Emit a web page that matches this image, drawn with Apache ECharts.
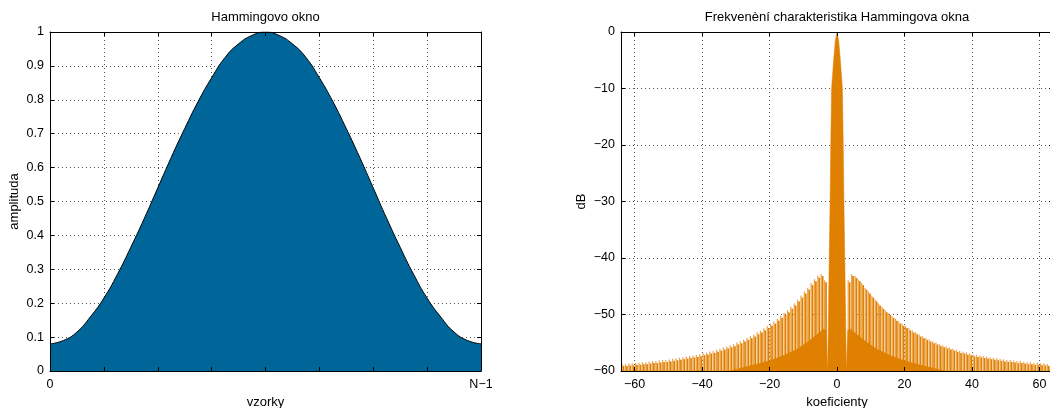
<!DOCTYPE html>
<html>
<head>
<meta charset="utf-8">
<script src="https://cdn.jsdelivr.net/npm/echarts@6/dist/echarts.min.js"></script>
<style>
html, body { margin: 0; padding: 0; background: #fff; }
#main { width: 1050px; height: 408px; }
</style>
</head>
<body>
<div id="main"></div>
<script>
// levy graf: Hammingovo okno, x v osminach (N-1)
var winX = [0, 0.25, 0.5, 0.75, 1, 1.25, 1.5, 1.75, 2, 2.25, 2.5, 2.75, 3, 3.25, 3.5, 3.75, 4,
    4.25, 4.5, 4.75, 5, 5.25, 5.5, 5.75, 6, 6.25, 6.5, 6.75, 7, 7.25, 7.5, 7.75, 8];
var winAmp = [0.08, 0.09, 0.115, 0.16, 0.215, 0.285, 0.365, 0.45, 0.54, 0.63, 0.715, 0.795, 0.865, 0.925, 0.965, 0.99, 1.0,
    0.99, 0.965, 0.925, 0.865, 0.795, 0.715, 0.63, 0.54, 0.45, 0.365, 0.285, 0.215, 0.16, 0.115, 0.09, 0.08];
var winXLabels = { 0: '0', 8: 'N\u22121' };

// pravy graf: hlavni lalok + spodni obalka
var lobeX = [-64, -32, -25, -20, -16, -12, -9, -6, -4, -3.2, -2.75, -2.55, -2.3, -2.05, -1.85, -1.6, -1.0, -0.5, 0,
    0.5, 1.0, 1.6, 1.85, 2.05, 2.3, 2.55, 2.75, 3.2, 4, 6, 9, 12, 16, 20, 25, 32, 64];
var lobeDb = [-60, -60, -59, -58.2, -57.3, -56.2, -55, -53.6, -52.6, -52.8, -60, -50, -40, -30, -20, -10, -5, -1.5, 0,
    -1.5, -5, -10, -20, -30, -40, -50, -60, -52.8, -52.6, -53.6, -55, -56.2, -57.3, -58.2, -59, -60, -60];

// spicky postrannich laloku, x = 3.5 .. 63.5
var rightSpikeDb = [-44.3, -43.2, -43.5, -44.1, -44.8, -45.6, -46.3, -47.0, -47.7, -48.4,
    -49.0, -49.6, -50.1, -50.6, -51.1, -51.6, -52.0, -52.4, -52.8, -53.2,
    -53.5, -53.9, -54.2, -54.5, -54.8, -55.1, -55.3, -55.6, -55.8, -56.0,
    -56.2, -56.4, -56.6, -56.8, -56.9, -57.1, -57.2, -57.4, -57.5, -57.6,
    -57.7, -57.8, -57.9, -58.0, -58.1, -58.2, -58.3, -58.4, -58.4, -58.5,
    -58.6, -58.6, -58.7, -58.8, -58.8, -58.9, -58.9, -59.0, -59.0, -59.1, -59.1];
// x = -63.5 .. -3.5
var leftSpikeDb = [-59.1, -59.1, -59.0, -59.0, -58.9, -58.9, -58.8, -58.8, -58.7, -58.6,
    -58.6, -58.5, -58.4, -58.4, -58.3, -58.2, -58.1, -58.0, -57.9, -57.8,
    -57.7, -57.6, -57.5, -57.4, -57.2, -57.1, -56.9, -56.8, -56.6, -56.4,
    -56.2, -56.0, -55.8, -55.6, -55.3, -55.1, -54.8, -54.5, -54.2, -53.9,
    -53.5, -53.2, -52.8, -52.4, -52.0, -51.6, -51.1, -50.6, -50.1, -49.6,
    -49.0, -48.4, -47.7, -47.0, -46.3, -45.6, -44.8, -44.1, -43.5, -43.2, -44.3];
var freqTicks = [-60, -40, -20, 0, 20, 40, 60];

var FONT = 'Liberation Sans, Arial, Helvetica, sans-serif';
var chart = echarts.init(document.getElementById('main'));

var winData = [];
for (var i = 0; i < winX.length; i++) winData.push([winX[i], winAmp[i]]);
var lobeData = [];
for (var i = 0; i < lobeX.length; i++) lobeData.push([lobeX[i], lobeDb[i]]);
var spikeData = [];
for (var i = 0; i < leftSpikeDb.length; i++) spikeData.push([-63.5 + i, leftSpikeDb[i]]);
for (var i = 0; i < rightSpikeDb.length; i++) spikeData.push([3.5 + i, rightSpikeDb[i]]);

function minus(v) { return String(v).replace('-', '\u2212'); }

var dotted = { show: true, lineStyle: { color: '#555', width: 1, type: [1, 3] } };
var lbl = { color: '#000', fontFamily: FONT, fontSize: 12.5 };
var nm = { color: '#000', fontFamily: FONT, fontSize: 13 };
var boxLine = { show: true, onZero: false, lineStyle: { color: '#000', width: 1 } };

function boxX(grid, pos, min, max, interval, ticks) {
    var ax = {
        type: 'value', gridIndex: grid, position: pos, min: min, max: max, z: 10,
        axisLine: boxLine,
        axisTick: { show: true, inside: true, length: 4, lineStyle: { color: '#000' } },
        axisLabel: { show: false }, splitLine: { show: false }
    };
    if (interval) ax.interval = interval;
    if (ticks) ax.axisTick.customValues = ticks;
    return ax;
}
function boxY(grid, pos, min, max, interval) {
    return {
        type: 'value', gridIndex: grid, position: pos, min: min, max: max, interval: interval, z: 10,
        axisLine: boxLine,
        axisTick: { show: true, inside: true, length: 4, lineStyle: { color: '#000' } },
        axisLabel: { show: false }, splitLine: { show: false }
    };
}

function drawSpike(params, api) {
    var tip = api.coord([api.value(0), api.value(1)]);
    var foot = api.coord([api.value(0), -60]);
    return {
        type: 'group',
        children: [
            { type: 'rect', shape: { x: tip[0] - 1.2, y: tip[1] - 2, width: 1.2, height: foot[1] - tip[1] + 2 },
              style: { fill: '#eda24a' } },
            { type: 'rect', shape: { x: tip[0], y: tip[1], width: 1.7, height: foot[1] - tip[1] },
              style: { fill: '#e08000' } }
        ]
    };
}

var option = {
    animation: false,
    backgroundColor: '#fff',
    grid: [
        { left: 50, top: 32, width: 431, height: 339, outerBoundsMode: 'none' },
        { left: 621, top: 32, width: 432, height: 339, outerBoundsMode: 'none' }
    ],
    xAxis: [
        {
            type: 'value', gridIndex: 0, position: 'bottom', min: 0, max: 8, interval: 1,
            axisLine: { show: false }, axisTick: { show: false },
            axisLabel: Object.assign({ margin: 7, formatter: function (v) { return winXLabels[v] || ''; } }, lbl),
            splitLine: dotted,
            name: 'vzorky', nameLocation: 'middle', nameGap: 22, nameTextStyle: nm
        },
        boxX(0, 'bottom', 0, 8, 1),
        Object.assign(boxX(0, 'top', 0, 8, 1), {
            name: 'Hammingovo okno', nameLocation: 'middle', nameGap: 8, nameTextStyle: nm
        }),
        {
            type: 'value', gridIndex: 1, position: 'bottom', min: -64, max: 64,
            axisLine: { show: false },
            axisTick: { show: false, customValues: freqTicks },
            axisLabel: Object.assign({ margin: 7, customValues: freqTicks, formatter: minus }, lbl),
            splitLine: dotted,
            name: 'koeficienty', nameLocation: 'middle', nameGap: 22, nameTextStyle: nm
        },
        boxX(1, 'bottom', -64, 64, null, freqTicks),
        Object.assign(boxX(1, 'top', -64, 64, null, freqTicks), {
            name: 'Frekven\u00e8n\u00ed charakteristika Hammingova okna', nameLocation: 'middle', nameGap: 8, nameTextStyle: nm
        })
    ],
    yAxis: [
        {
            type: 'value', gridIndex: 0, position: 'left', min: 0, max: 1, interval: 0.1,
            axisLine: { show: false }, axisTick: { show: false },
            axisLabel: Object.assign({ margin: 6 }, lbl),
            splitLine: dotted,
            name: 'amplituda', nameLocation: 'middle', nameGap: 29, nameTextStyle: nm
        },
        boxY(0, 'left', 0, 1, 0.1),
        boxY(0, 'right', 0, 1, 0.1),
        {
            type: 'value', gridIndex: 1, position: 'left', min: -60, max: 0, interval: 10,
            axisLine: { show: false }, axisTick: { show: false },
            axisLabel: Object.assign({ margin: 6, formatter: minus }, lbl),
            splitLine: dotted,
            name: 'dB', nameLocation: 'middle', nameGap: 33, nameTextStyle: nm
        },
        boxY(1, 'left', -60, 0, 10),
        boxY(1, 'right', -60, 0, 10)
    ],
    series: [
        {
            type: 'line', xAxisIndex: 0, yAxisIndex: 0, data: winData,
            smooth: true, showSymbol: false, silent: true,
            lineStyle: { color: '#000', width: 1 },
            areaStyle: { color: '#00669a', opacity: 1, origin: 'start' }
        },
        {
            type: 'custom', xAxisIndex: 3, yAxisIndex: 3, data: spikeData,
            renderItem: drawSpike, clip: true, silent: true, z: 2,
            encode: { x: 0, y: 1 }
        },
        {
            type: 'line', xAxisIndex: 3, yAxisIndex: 3, data: lobeData,
            showSymbol: false, silent: true, z: 3,
            lineStyle: { color: '#e08000', width: 0.5 },
            areaStyle: { color: '#e08000', opacity: 1, origin: 'start' }
        }
    ]
};
chart.setOption(option);
</script>
</body>
</html>
